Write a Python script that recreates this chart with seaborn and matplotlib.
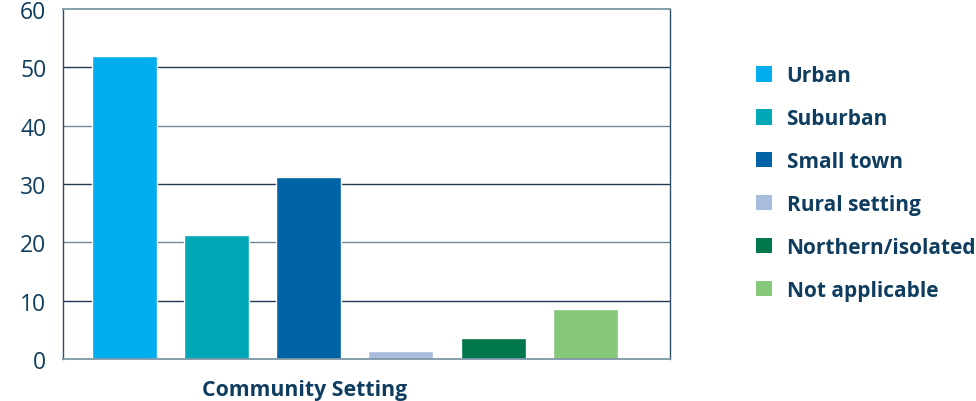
import matplotlib
matplotlib.use("Agg")
import matplotlib.pyplot as plt
from matplotlib.patches import Patch
import seaborn as sns

# Community setting breakdown
categories = ["Urban", "Suburban", "Small town", "Rural setting",
              "Northern/isolated", "Not applicable"]
values = [52, 21.2, 31.2, 1.4, 3.6, 8.5]
colors = ["#00AEEF", "#00A8B7", "#0063A6", "#A8BDDE", "#00774A", "#86C879"]
yticks = [0, 10, 20, 30, 40, 50, 60]
xlabel = "Community Setting"

TEXT = "#0f3d5f"

sns.set_theme(style="white")
plt.rcParams["font.family"] = ["Open Sans", "DejaVu Sans"]

fig = plt.figure(figsize=(9.76, 4.02), dpi=100)
ax = fig.add_axes([63 / 976, 42 / 402, 607 / 976, 350 / 402])

sns.barplot(x=categories, y=values, hue=categories, palette=colors,
            width=0.706, legend=False, ax=ax, saturation=1)

ax.set_xlim(-0.668, 5.92)
ax.set_ylim(0, 60)
ax.set_yticks(yticks)
ax.set_yticklabels([str(t) for t in yticks], fontsize=16.5, color=TEXT)
ax.set_xticks([])
ax.tick_params(axis="y", length=0, pad=12)

# horizontal rules behind the bars
ax.set_axisbelow(True)
rule_colors = {10: "#1d3a52", 20: "#6d8799", 30: "#1d3a52", 40: "#6d8799", 50: "#1d3a52"}
for yv, c in rule_colors.items():
    ax.axhline(yv, color=c, lw=1.0, zorder=0)

for side in ["top", "bottom"]:
    ax.spines[side].set_color("#7d96a6")
    ax.spines[side].set_linewidth(1.3)
for side in ["left", "right"]:
    ax.spines[side].set_color("#2e4d66")
    ax.spines[side].set_linewidth(1.0)

ax.set_xlabel(xlabel, fontsize=15.3, fontweight="bold", color=TEXT)
ax.xaxis.set_label_coords((305 - 63) / 607, -0.058, transform=ax.transAxes)
ax.xaxis.label.set_verticalalignment("top")
ax.set_ylabel("")

handles = [Patch(facecolor=c, edgecolor="none") for c in colors]
leg = fig.legend(handles, categories, loc="upper left",
                 bbox_to_anchor=(748 / 976, 1 - 58 / 402),
                 frameon=False, fontsize=15, handlelength=0.75, handleheight=0.75,
                 handletextpad=0.7, labelspacing=1.05, borderaxespad=0)
for t in leg.get_texts():
    t.set_color(TEXT)
    t.set_fontweight("bold")

fig.savefig("out.png", dpi=100)
